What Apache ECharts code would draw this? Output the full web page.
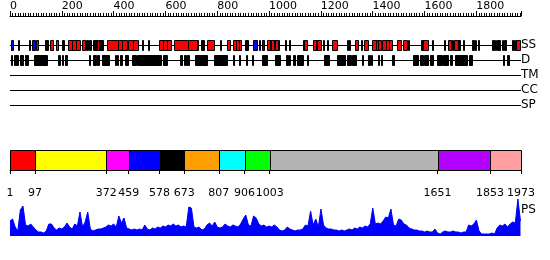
<!DOCTYPE html>
<html><head><meta charset="utf-8">
<script src="https://cdn.jsdelivr.net/npm/echarts@6/dist/echarts.min.js"></script>
<style>html,body{margin:0;padding:0;background:#fff}#c{width:550px;height:260px}</style>
</head><body><div id="c"></div>
<script>
const seqLength = 1973;
const trackNames = ['SS', 'D', 'TM', 'CC', 'SP'];
// secondary structure: helices (red), strands (blue), other (black)
const ssHelix = [[101,109],[155,167],[180,188],[225,240],[240,256],[256,273],[277,291],[337,346],[375,416],[418,433],[433,451],[456,476],[476,495],[576,592],[592,607],[607,624],[634,688],[688,721],[746,750],[761,790],[839,850],[862,874],[874,883],[883,891],[993,1003],[1009,1018],[1024,1034],[1134,1147],[1171,1182],[1186,1200],[1244,1263],[1333,1344],[1366,1381],[1398,1414],[1414,1421],[1421,1433],[1437,1452],[1452,1464],[1464,1475],[1493,1510],[1518,1533],[1595,1614],[1692,1703],[1715,1728],[1954,1968]];
const ssStrand = [[5,13],[84,96],[939,953],[974,981],[1003,1009],[1182,1186],[1898,1904],[1941,1946],[1948,1954]];
const ssOther = [[32,36],[74,78],[136,148],[202,211],[294,296],[299,301],[305,307],[311,313],[321,337],[346,360],[509,512],[535,539],[723,727],[740,746],[813,817],[908,920],[960,964],[1018,1024],[1034,1037],[1062,1066],[1078,1082],[1130,1134],[1207,1211],[1223,1227],[1302,1306],[1310,1313],[1356,1360],[1537,1541],[1589,1593],[1628,1632],[1675,1678],[1707,1711],[1728,1738],[1750,1753],[1784,1790],[1794,1800],[1806,1812],[1862,1869],[1871,1877],[1881,1892],[1908,1916],[1937,1941]];
// disorder
const disorder = [[5,9],[16,32],[38,51],[59,70],[94,144],[186,194],[200,206],[213,221],[306,310],[321,333],[337,345],[356,383],[406,410],[414,418],[426,433],[445,456],[472,487],[491,584],[592,607],[657,663],[673,680],[684,692],[715,761],[788,839],[860,864],[885,889],[912,916],[935,939],[974,993],[1024,1043],[1068,1072],[1076,1082],[1093,1101],[1109,1132],[1147,1151],[1213,1232],[1263,1294],[1302,1317],[1321,1337],[1358,1362],[1383,1391],[1395,1399],[1422,1425],[1433,1437],[1476,1483],[1557,1576],[1584,1595],[1599,1614],[1622,1634],[1649,1668],[1672,1692],[1699,1707],[1719,1765],[1773,1785],[1902,1906],[1919,1927]];
// domain boundaries
const domainBounds = [1, 97, 372, 459, 578, 673, 807, 906, 1003, 1651, 1853, 1973];
const domainColors = ['#ff0000','#ffff00','#ff00ff','#0000ff','#000000','#ff9f00','#00ffff','#00ff00','#b3b3b3','#b300ff','#ff9f9f'];
// PS profile, one value per 10 residues starting at residue 1
const psStart = 1, psStep = 10;
const psValues = [
15,17,9,5,26,30,11,10,12,9,
6,4,4,3,5,12,12,8,6,8,
7,9,13,9,7,12,10,24,9,14,
24,7,5,6,7,7,8,9,11,10,
12,9,20,13,18,8,7,6,7,6,
7,6,11,7,6,8,7,9,8,10,
9,11,10,12,10,11,9,10,9,29,
28,9,8,9,6,7,11,13,10,14,
9,8,9,12,10,9,11,10,9,12,
17,21,11,10,20,18,12,10,11,9,
10,9,11,9,6,5,6,9,7,6,
5,6,6,7,11,10,25,11,17,9,
27,11,8,7,7,6,6,5,6,5,
6,7,6,8,7,9,8,10,9,12,
28,12,13,12,15,19,18,27,11,10,
17,16,12,11,8,7,6,6,5,5,
4,5,4,4,7,3,2,4,5,4,
4,5,4,4,3,4,4,11,10,12,
16,5,2,2,2,2,3,2,8,11,
10,12,9,12,14,13,37,15];

const FONT = 'DejaVu Sans';
const plain = v => String(Math.round(v));
function seg(list, row) { return list.map(d => [d[0], d[1], row]); }
function trackBox(fill) {
  return function (params, api) {
    const a = api.coord([api.value(0), api.value(2)]);
    const b = api.coord([api.value(1), api.value(2)]);
    const h = Math.round(api.size([0, 1])[1] * 0.67);
    const x0 = Math.round(a[0]) + 0.5;
    const x1 = Math.max(Math.round(b[0]) + 0.5, x0 + 1);
    const y0 = Math.round(a[1] - h / 2) + 0.5;
    return { type: 'rect', shape: { x: x0, y: y0, width: x1 - x0, height: h },
      style: { fill: fill, stroke: '#000', lineWidth: 1 } };
  };
}
function baseLine(params, api) {
  const a = api.coord([api.value(0), api.value(2)]);
  const b = api.coord([api.value(1), api.value(2)]);
  const y = Math.round(a[1]) + 0.5;
  return { type: 'line', shape: { x1: a[0], y1: y, x2: b[0], y2: y }, style: { stroke: '#000', lineWidth: 1 } };
}
const domainData = [];
for (let i = 0; i < domainBounds.length - 1; i++) domainData.push([domainBounds[i], domainBounds[i + 1]]);
const psData = psValues.map((v, i) => [psStart + i * psStep, v]);

const chart = echarts.init(document.getElementById('c'));
chart.setOption({
  animation: false,
  backgroundColor: '#fff',
  grid: [
    { left: 10, width: 511, top: 15, height: 1 },
    { left: 10, width: 511, top: 37.5, height: 75 },
    { left: 10, width: 511, top: 150, height: 20 },
    { left: 10, width: 511, top: 198, height: 38 }
  ],
  xAxis: [
    { gridIndex: 0, type: 'value', min: 0, max: seqLength, interval: 200, position: 'top',
      axisLine: { lineStyle: { color: '#000', width: 1 } },
      axisTick: { length: 5, lineStyle: { color: '#000' } },
      minorTick: { show: true, splitNumber: 20, length: 3, lineStyle: { color: '#000' } },
      axisLabel: { align: 'left', fontSize: 11, fontFamily: FONT, color: '#000', margin: 3, showMaxLabel: false, formatter: plain },
      splitLine: { show: false } },
    { gridIndex: 1, type: 'value', min: 1, max: seqLength, show: false },
    { gridIndex: 2, type: 'value', min: 1, max: seqLength, position: 'bottom', offset: 10,
      axisLine: { lineStyle: { color: '#000', width: 1 } },
      axisTick: { length: 4, customValues: domainBounds, lineStyle: { color: '#000' } },
      axisLabel: { customValues: domainBounds, fontSize: 11, fontFamily: FONT, color: '#000', margin: 8,
        hideOverlap: false, showMaxLabel: true, showMinLabel: true, formatter: plain },
      splitLine: { show: false } },
    { gridIndex: 3, type: 'value', min: 1, max: seqLength, show: false }
  ],
  yAxis: [
    { gridIndex: 0, type: 'value', show: false },
    { gridIndex: 1, type: 'category', data: trackNames, inverse: true, position: 'right',
      axisLine: { show: false }, axisTick: { show: false },
      axisLabel: { interval: 0, margin: 0, fontSize: 12, fontFamily: FONT, color: '#000' } },
    { gridIndex: 2, type: 'value', min: 0, max: 1, show: false },
    { gridIndex: 3, type: 'value', min: 0, max: 38, show: false }
  ],
  graphic: [
    { type: 'text', left: 521, top: 204, style: { text: 'PS', font: '12px "DejaVu Sans"', fill: '#000' } }
  ],
  series: [
    { type: 'custom', xAxisIndex: 1, yAxisIndex: 1, renderItem: baseLine,
      encode: { x: [0, 1], y: 2 }, data: trackNames.map((n, i) => [1, seqLength, i]) },
    { type: 'custom', xAxisIndex: 1, yAxisIndex: 1, renderItem: trackBox('#000000'),
      encode: { x: [0, 1], y: 2 }, data: seg(ssOther, 0) },
    { type: 'custom', xAxisIndex: 1, yAxisIndex: 1, renderItem: trackBox('#ff0000'),
      encode: { x: [0, 1], y: 2 }, data: seg(ssHelix, 0) },
    { type: 'custom', xAxisIndex: 1, yAxisIndex: 1, renderItem: trackBox('#0000ff'),
      encode: { x: [0, 1], y: 2 }, data: seg(ssStrand, 0) },
    { type: 'custom', xAxisIndex: 1, yAxisIndex: 1, renderItem: trackBox('#000000'),
      encode: { x: [0, 1], y: 2 }, data: seg(disorder, 1) },
    { type: 'custom', xAxisIndex: 2, yAxisIndex: 2,
      renderItem: function (params, api) {
        const a = api.coord([api.value(0), 1]);
        const b = api.coord([api.value(1), 0]);
        const x0 = Math.round(a[0]) + 0.5, x1 = Math.round(b[0]) + 0.5;
        const y0 = Math.round(a[1]) + 0.5, y1 = Math.round(b[1]) + 0.5;
        return { type: 'rect', shape: { x: x0, y: y0, width: x1 - x0, height: y1 - y0 },
          style: { fill: domainColors[params.dataIndex], stroke: '#000', lineWidth: 1 } };
      },
      encode: { x: [0, 1] }, data: domainData },
    { type: 'line', xAxisIndex: 3, yAxisIndex: 3, data: psData, showSymbol: false, symbol: 'none',
      lineStyle: { color: '#0000ff', width: 1 }, areaStyle: { color: '#0000ff', opacity: 1 } }
  ]
});
</script></body></html>
